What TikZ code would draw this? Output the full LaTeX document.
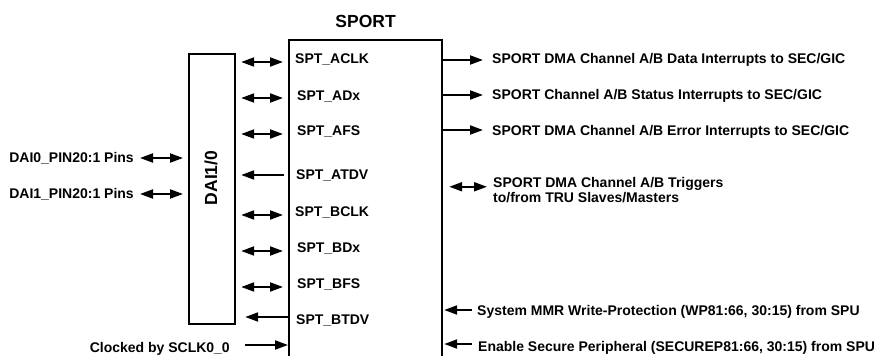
\documentclass[tikz,border=0pt]{standalone}
\usepackage{fontspec}
\setmainfont{Liberation Sans}
\usetikzlibrary{positioning, arrows.meta, calc}

\begin{document}
\begin{tikzpicture}[x=1pt, y=-1pt,
	blk/.style={draw, line width=2.2pt, inner sep=0pt},
	sig/.style={font=\fontsize{14}{15}\selectfont\bfseries, inner sep=0pt, text height=10pt, text depth=0pt},
	big/.style={font=\fontsize{17.5}{19}\selectfont\bfseries, inner sep=0pt},
	biarr/.style={{Triangle[length=13pt,width=9pt]}-{Triangle[length=13pt,width=9pt]}, line width=2pt},
	outarr/.style={-{Triangle[length=13pt,width=9pt]}, line width=2pt},
	inarr/.style={{Triangle[length=13pt,width=9pt]}-, line width=2pt}]
			\clip (0,0) rectangle (876,356);
			
			\node[blk, minimum width=153pt, minimum height=340pt, anchor=north west] (sport) at (288,39) {};
			\node[big, above=11pt of sport.north] (sporttitle) {SPORT};
			\node[blk, minimum width=46pt, minimum height=270pt, anchor=north west] (dai) at (188,53) {};
			\node[big, rotate=90] (dailbl) at (211,178) {DAI1/0};
			
			\node[sig, anchor=west] (aclk) at (295,58) {SPT\_ACLK};
			\node[sig, anchor=west] (adx) at (297,95) {SPT\_ADx};
			\node[sig, anchor=west] (afs) at (297,130.5) {SPT\_AFS};
			\node[sig, anchor=west] (atdv) at (296,174.5) {SPT\_ATDV};
			\node[sig, anchor=west] (bclk) at (295,211.5) {SPT\_BCLK};
			\node[sig, anchor=west] (bdx) at (297,247.5) {SPT\_BDx};
			\node[sig, anchor=west] (bfs) at (297,283) {SPT\_BFS};
			\node[sig, anchor=west] (btdv) at (296,319) {SPT\_BTDV};
			
			\node[sig, anchor=east] (dai0) at (134,157.5) {DAI0\_PIN20:1 Pins};
			\node[sig, anchor=east] (dai1) at (134,193.5) {DAI1\_PIN20:1 Pins};
			\node[sig, anchor=east] (sclk) at (230,347) {Clocked by SCLK0\_0};
			
			\node[sig, anchor=west] (dataint) at (492,58) {SPORT DMA Channel A/B Data Interrupts to SEC/GIC};
			\node[sig, anchor=west] (statint) at (492,94.5) {SPORT Channel A/B Status Interrupts to SEC/GIC};
			\node[sig, anchor=west] (errint) at (492,130) {SPORT DMA Channel A/B Error Interrupts to SEC/GIC};
			\node[sig, anchor=north west, text height=, align=left, font=\fontsize{14}{15}\selectfont\bfseries] (trig) at (493,177) {SPORT DMA Channel A/B Triggers\\to/from TRU Slaves/Masters};
			\node[sig, anchor=west] (wprot) at (477,310) {System MMR Write-Protection (WP81:66, 30:15) from SPU};
			\node[sig, anchor=west] (secure) at (478,346) {Enable Secure Peripheral (SECUREP81:66, 30:15) from SPU};
			
			% DAI <-> SPORT
			\draw[biarr] ($(dai.east|-aclk)+(5,4)$) -- ($(sport.west|-aclk)+(-5,4)$);
			\draw[biarr] ($(dai.east|-adx)+(5,3)$) -- ($(sport.west|-adx)+(-5,3)$);
			\draw[biarr] ($(dai.east|-afs)+(5,3.5)$) -- ($(sport.west|-afs)+(-5,3.5)$);
			\draw[inarr] ($(dai.east|-atdv)+(5,0.5)$) -- ($(sport.west|-atdv)+(-4,0.5)$);
			\draw[biarr] ($(dai.east|-bclk)+(5,3.5)$) -- ($(sport.west|-bclk)+(-5,3.5)$);
			\draw[biarr] ($(dai.east|-bdx)+(5,3.5)$) -- ($(sport.west|-bdx)+(-5,3.5)$);
			\draw[biarr] ($(dai.east|-bfs)+(5,4)$) -- ($(sport.west|-bfs)+(-5,4)$);
			\draw[inarr] ($(dai.east|-btdv)+(9,-2)$) -- ($(sport.west|-btdv)+(0,-2)$);
			
			% pins and clock
			\draw[biarr] ($(dai0.east)+(6,0.5)$) -- ($(dai.west|-dai0)+(-5,0.5)$);
			\draw[biarr] ($(dai1.east)+(6,0.5)$) -- ($(dai.west|-dai1)+(-5,0.5)$);
			\draw[outarr] ($(sclk.east)+(15,-2)$) -- ($(sport.west|-sclk)+(0,-2)$);
			
			% interrupts, triggers, SPU
			\draw[outarr] ($(sport.east|-dataint)+(0,2)$) -- ($(dataint.west)+(-9,2)$);
			\draw[outarr] ($(sport.east|-statint)+(0,0.5)$) -- ($(statint.west)+(-9,0.5)$);
			\draw[outarr] ($(sport.east|-errint)+(0,0)$) -- ($(errint.west)+(-9,0)$);
			\draw[biarr] ($(sport.east|-trig.west)+(6,-3)$) -- ($(trig.west)+(-6,-3)$);
			\draw[inarr] ($(sport.east|-wprot)+(1,0)$) -- ($(wprot.west)+(-5,0)$);
			\draw[inarr] ($(sport.east|-secure)+(1,-2)$) -- ($(secure.west)+(-6,-2)$);
			
		\end{tikzpicture}
\end{document}
